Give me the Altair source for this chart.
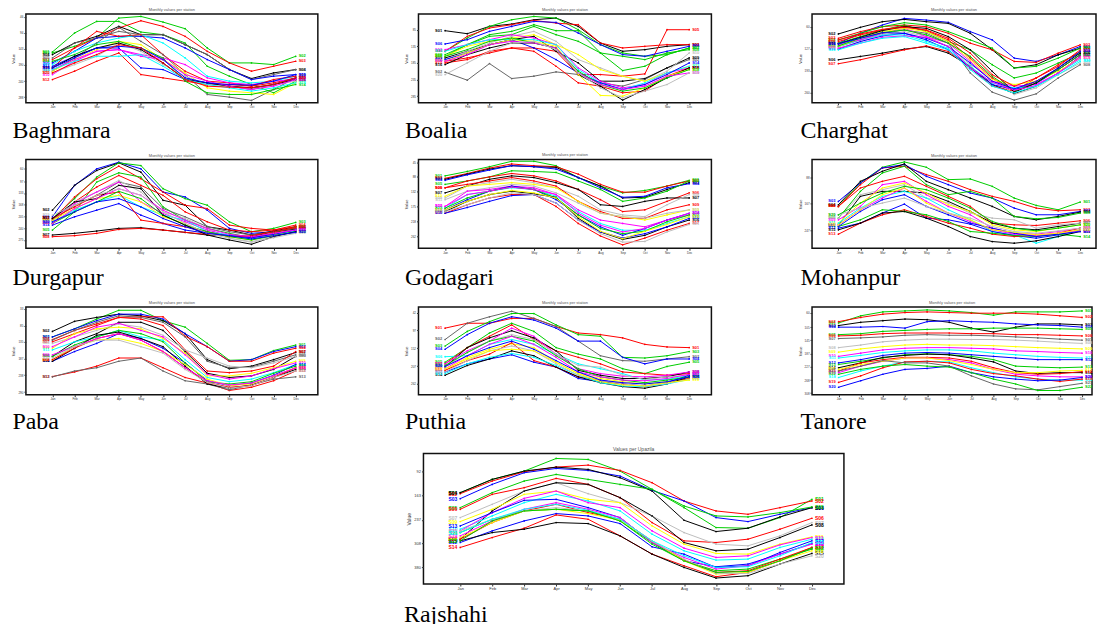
import altair as alt
import pandas as pd

MONTHS = ["Jan", "Feb", "Mar", "Apr", "May", "Jun", "Jul", "Aug", "Sep", "Oct", "Nov", "Dec"]
PALETTE = {"k": "#000000", "r": "#FF0000", "g": "#00CD00", "b": "#0000FF", "c": "#00FFFF",
           "m": "#FF00FF", "y": "#FFFF00", "gr": "#BEBEBE", "dg": "#666666"}

# values (arbitrary units: screen depth inside each panel frame)
BAGHMARA = [
    ("g", [152, 95, 60, 60, 92, 100, 125, 195, 225, 250, 275, 240]),
    ("g", [155, 135, 110, 50, 45, 62, 82, 140, 185, 185, 190, 165]),
    ("r", [175, 140, 110, 80, 58, 75, 105, 150, 185, 210, 195, 180]),
    ("k", [160, 125, 105, 75, 100, 100, 130, 160, 205, 232, 215, 205]),
    ("dg", [170, 125, 110, 90, 100, 100, 130, 160, 205, 235, 220, 205]),
    ("b", [185, 150, 110, 105, 105, 110, 140, 175, 205, 235, 225, 220]),
    ("c", [190, 150, 125, 110, 100, 125, 170, 225, 240, 245, 240, 225]),
    ("r", [200, 140, 90, 105, 100, 160, 210, 240, 245, 255, 245, 230]),
    ("dg", [210, 170, 125, 78, 120, 160, 220, 280, 288, 298, 265, 230]),
    ("m", [220, 180, 150, 145, 160, 170, 190, 230, 245, 250, 240, 235]),
    ("y", [210, 175, 145, 120, 130, 175, 215, 260, 270, 275, 280, 245]),
    ("r", [235, 210, 180, 155, 220, 230, 240, 250, 250, 255, 235, 225]),
    ("b", [195, 165, 140, 140, 200, 205, 235, 245, 255, 265, 250, 230]),
    ("g", [180, 160, 130, 120, 140, 170, 240, 275, 280, 280, 265, 250]),
    ("gr", [215, 190, 165, 125, 150, 190, 225, 250, 255, 265, 250, 240]),
    ("k", [200, 165, 140, 125, 145, 185, 235, 245, 255, 260, 250, 235]),
    ("m", [205, 175, 150, 145, 165, 175, 220, 240, 255, 265, 255, 235]),
    ("c", [205, 180, 165, 165, 160, 195, 235, 250, 260, 270, 260, 245]),
    ("b", [200, 170, 140, 135, 140, 175, 230, 245, 250, 252, 240, 220]),
    ("r", [215, 185, 160, 130, 140, 185, 235, 255, 258, 260, 250, 230]),
]

BOALIA = [
    ("k", [88, 97, 75, 68, 55, 50, 75, 125, 150, 145, 135, 130]),
    ("dg", [213, 237, 187, 232, 225, 212, 220, 245, 255, 235, 200, 175]),
    ("g", [150, 110, 75, 55, 45, 50, 85, 130, 155, 165, 160, 140]),
    ("r", [150, 105, 80, 70, 57, 65, 70, 125, 140, 135, 130, 130]),
    ("r", [180, 170, 155, 140, 140, 150, 220, 220, 225, 218, 85, 85]),
    ("b", [128, 115, 90, 75, 60, 63, 95, 130, 160, 165, 150, 135]),
    ("g", [165, 130, 100, 90, 70, 88, 88, 155, 208, 195, 160, 140]),
    ("g", [160, 130, 105, 100, 75, 100, 120, 155, 165, 175, 155, 145]),
    ("k", [170, 150, 130, 115, 105, 150, 185, 240, 240, 232, 200, 170]),
    ("gr", [175, 150, 125, 105, 90, 120, 175, 200, 225, 240, 210, 155]),
    ("y", [165, 135, 120, 110, 100, 130, 160, 205, 225, 240, 215, 195]),
    ("m", [145, 130, 115, 100, 110, 130, 200, 240, 260, 250, 215, 200]),
    ("c", [150, 130, 115, 115, 115, 130, 205, 245, 265, 245, 215, 195]),
    ("b", [175, 155, 130, 115, 140, 175, 215, 245, 265, 250, 220, 185]),
    ("r", [185, 175, 150, 140, 150, 195, 245, 255, 275, 270, 225, 200]),
    ("k", [190, 160, 140, 125, 125, 140, 220, 255, 297, 265, 230, 200]),
    ("y", [180, 155, 130, 115, 120, 135, 220, 283, 285, 260, 225, 205]),
    ("g", [165, 145, 120, 110, 125, 140, 210, 250, 270, 260, 230, 205]),
    ("m", [180, 160, 130, 120, 125, 140, 215, 250, 265, 255, 225, 215]),
    ("gr", [220, 185, 150, 125, 120, 145, 215, 260, 290, 270, 250, 215]),
]

CHARGHAT = [
    ("b", [110, 80, 55, 35, 40, 47, 75, 100, 155, 165, 145, 120]),
    ("k", [82, 62, 45, 38, 45, 50, 80, 130, 185, 175, 145, 125]),
    ("r", [95, 75, 60, 55, 60, 80, 110, 130, 165, 168, 140, 115]),
    ("g", [100, 80, 60, 48, 55, 75, 100, 125, 185, 180, 155, 125]),
    ("g", [110, 90, 70, 55, 75, 105, 130, 175, 215, 200, 170, 140]),
    ("k", [160, 150, 140, 128, 120, 140, 180, 235, 262, 240, 200, 150]),
    ("r", [172, 160, 145, 130, 118, 135, 185, 240, 255, 225, 190, 145]),
    ("dg", [120, 100, 80, 70, 80, 110, 200, 258, 282, 263, 215, 175]),
    ("gr", [125, 105, 85, 75, 90, 120, 175, 215, 265, 245, 205, 170]),
    ("r", [105, 85, 70, 58, 72, 100, 155, 215, 255, 215, 175, 135]),
    ("b", [128, 105, 88, 80, 100, 130, 185, 235, 250, 232, 190, 145]),
    ("c", [120, 100, 85, 85, 105, 125, 180, 230, 245, 240, 200, 160]),
    ("m", [115, 100, 80, 65, 90, 110, 165, 225, 240, 235, 200, 150]),
    ("y", [120, 95, 75, 65, 75, 105, 160, 220, 235, 225, 195, 155]),
    ("g", [118, 95, 78, 70, 85, 110, 150, 210, 255, 230, 190, 145]),
    ("k", [112, 92, 72, 60, 65, 90, 130, 195, 258, 230, 185, 140]),
    ("r", [100, 82, 68, 62, 70, 95, 140, 205, 240, 215, 180, 130]),
    ("b", [112, 95, 78, 80, 95, 120, 170, 225, 248, 225, 185, 135]),
    ("m", [125, 110, 92, 88, 92, 120, 185, 228, 252, 238, 200, 155]),
    ("c", [130, 110, 95, 90, 110, 130, 190, 240, 260, 240, 205, 165]),
]

DURGAPUR = [
    ("b", [205, 110, 60, 40, 60, 130, 145, 185, 240, 255, 250, 240]),
    ("k", [185, 110, 65, 42, 70, 155, 170, 235, 245, 260, 248, 235]),
    ("g", [210, 150, 85, 42, 50, 120, 150, 170, 220, 250, 240, 222]),
    ("r", [215, 145, 90, 52, 90, 130, 170, 180, 230, 240, 245, 230]),
    ("g", [245, 190, 100, 72, 85, 175, 215, 240, 255, 268, 255, 235]),
    ("r", [225, 160, 115, 80, 110, 140, 190, 220, 245, 250, 245, 235]),
    ("k", [260, 255, 248, 240, 238, 245, 252, 260, 262, 265, 250, 242]),
    ("r", [265, 262, 255, 243, 240, 245, 252, 258, 262, 268, 255, 245]),
    ("dg", [215, 170, 140, 100, 115, 180, 205, 235, 250, 260, 250, 240]),
    ("gr", [220, 160, 130, 95, 130, 190, 210, 240, 270, 280, 265, 250]),
    ("m", [210, 165, 130, 100, 160, 195, 220, 245, 262, 268, 262, 245]),
    ("c", [220, 185, 160, 140, 175, 200, 215, 250, 260, 272, 260, 248]),
    ("y", [215, 180, 150, 140, 160, 205, 225, 255, 265, 275, 260, 252]),
    ("b", [230, 205, 185, 165, 200, 225, 245, 255, 262, 268, 258, 245]),
    ("r", [210, 175, 140, 130, 215, 225, 235, 250, 265, 262, 250, 238]),
    ("g", [225, 190, 160, 128, 150, 200, 230, 250, 265, 275, 262, 250]),
    ("k", [210, 160, 150, 110, 120, 200, 230, 260, 275, 288, 265, 250]),
    ("m", [225, 180, 150, 120, 140, 185, 215, 240, 258, 265, 255, 245]),
    ("gr", [200, 170, 140, 120, 140, 190, 225, 255, 270, 282, 268, 255]),
    ("b", [220, 190, 160, 150, 175, 210, 235, 255, 262, 272, 262, 252]),
]

GODAGARI = [
    ("g", [85, 72, 58, 42, 42, 55, 90, 115, 135, 128, 115, 98]),
    ("r", [92, 78, 62, 50, 55, 58, 80, 110, 133, 133, 115, 100]),
    ("k", [95, 80, 65, 55, 58, 60, 90, 115, 150, 148, 125, 105]),
    ("b", [98, 82, 68, 55, 58, 65, 90, 120, 148, 145, 120, 108]),
    ("g", [110, 100, 88, 70, 72, 75, 100, 125, 160, 150, 130, 100]),
    ("r", [120, 100, 88, 78, 85, 100, 125, 155, 190, 185, 160, 135]),
    ("k", [135, 115, 95, 85, 90, 105, 125, 170, 175, 160, 150, 150]),
    ("gr", [150, 115, 105, 95, 105, 120, 145, 185, 200, 205, 170, 140]),
    ("r", [120, 110, 100, 90, 100, 115, 160, 190, 210, 210, 185, 170]),
    ("y", [145, 115, 110, 105, 110, 120, 160, 195, 205, 215, 200, 185]),
    ("gr", [155, 130, 120, 110, 115, 135, 165, 195, 205, 210, 195, 185]),
    ("m", [175, 130, 125, 115, 120, 140, 185, 215, 225, 235, 215, 200]),
    ("c", [180, 140, 130, 120, 125, 145, 190, 225, 245, 245, 225, 205]),
    ("b", [185, 155, 130, 115, 125, 155, 200, 235, 260, 240, 215, 195]),
    ("g", [180, 150, 130, 118, 125, 150, 200, 240, 255, 248, 220, 200]),
    ("k", [190, 160, 140, 130, 138, 148, 210, 250, 272, 260, 235, 215]),
    ("r", [195, 170, 150, 140, 140, 175, 225, 262, 288, 268, 245, 225]),
    ("b", [195, 178, 160, 143, 140, 165, 215, 250, 268, 255, 235, 210]),
    ("y", [185, 160, 140, 128, 135, 150, 205, 248, 270, 248, 228, 205]),
    ("m", [175, 140, 130, 118, 125, 140, 195, 230, 250, 240, 215, 195]),
    ("gr", [190, 170, 150, 135, 140, 165, 215, 255, 280, 278, 250, 228]),
]

MOHANPUR = [
    ("g", [175, 105, 58, 42, 58, 95, 93, 115, 150, 172, 185, 162]),
    ("r", [175, 110, 60, 55, 80, 100, 125, 145, 160, 180, 188, 185]),
    ("b", [160, 105, 60, 50, 85, 110, 135, 150, 180, 200, 200, 190]),
    ("k", [170, 100, 70, 48, 100, 125, 150, 175, 205, 215, 205, 192]),
    ("g", [210, 130, 75, 55, 110, 140, 130, 150, 205, 212, 208, 195]),
    ("r", [175, 120, 100, 85, 115, 145, 175, 225, 230, 232, 225, 218]),
    ("k", [230, 145, 130, 130, 135, 160, 190, 225, 240, 245, 235, 225]),
    ("gr", [210, 140, 125, 110, 150, 165, 195, 210, 215, 240, 230, 225]),
    ("m", [215, 175, 110, 100, 140, 175, 200, 240, 255, 258, 250, 240]),
    ("y", [225, 165, 120, 105, 135, 170, 190, 230, 245, 250, 240, 230]),
    ("c", [225, 180, 145, 130, 150, 185, 215, 250, 260, 285, 265, 248]),
    ("b", [240, 225, 195, 168, 210, 215, 228, 250, 262, 270, 260, 245]),
    ("r", [258, 225, 200, 185, 205, 225, 240, 258, 265, 262, 255, 240]),
    ("g", [235, 215, 185, 190, 200, 220, 250, 255, 262, 265, 258, 265]),
    ("k", [245, 225, 195, 190, 210, 235, 265, 280, 285, 278, 265, 250]),
    ("m", [230, 185, 150, 120, 160, 195, 220, 245, 258, 262, 255, 248]),
    ("b", [235, 190, 155, 140, 175, 200, 225, 240, 255, 265, 258, 250]),
    ("y", [230, 185, 140, 120, 165, 195, 215, 245, 252, 260, 255, 245]),
    ("gr", [200, 180, 165, 150, 175, 195, 210, 235, 250, 255, 248, 240]),
    ("g", [200, 165, 135, 115, 125, 150, 180, 220, 240, 248, 240, 230]),
]

PABA = [
    ("g", [120, 95, 65, 38, 38, 70, 90, 140, 192, 190, 162, 145]),
    ("k", [103, 72, 60, 50, 55, 70, 110, 190, 218, 210, 190, 168]),
    ("b", [120, 95, 70, 50, 50, 65, 110, 150, 195, 190, 165, 150]),
    ("r", [128, 100, 80, 60, 58, 58, 118, 150, 195, 195, 170, 155]),
    ("dg", [130, 100, 75, 55, 60, 75, 120, 195, 215, 213, 195, 175]),
    ("k", [180, 135, 110, 75, 75, 100, 165, 232, 245, 240, 220, 180]),
    ("r", [135, 110, 85, 60, 65, 85, 160, 225, 230, 225, 210, 165]),
    ("gr", [140, 120, 100, 80, 90, 115, 160, 185, 210, 215, 200, 180]),
    ("y", [155, 110, 95, 90, 95, 125, 170, 240, 240, 232, 215, 195]),
    ("m", [150, 120, 90, 78, 100, 120, 175, 235, 250, 240, 218, 200]),
    ("c", [160, 135, 120, 100, 120, 130, 190, 245, 258, 250, 230, 205]),
    ("r", [242, 228, 210, 185, 185, 215, 245, 262, 285, 275, 255, 225]),
    ("dg", [243, 225, 215, 195, 185, 225, 255, 265, 283, 268, 250, 243]),
    ("b", [195, 165, 140, 110, 125, 155, 200, 255, 270, 262, 238, 205]),
    ("g", [180, 145, 120, 100, 110, 135, 200, 258, 265, 258, 232, 210]),
    ("k", [195, 155, 115, 105, 125, 150, 210, 265, 278, 268, 245, 220]),
    ("y", [190, 150, 130, 125, 140, 165, 205, 250, 270, 265, 240, 215]),
    ("r", [190, 155, 125, 110, 130, 165, 215, 260, 275, 270, 245, 215]),
    ("m", [175, 150, 125, 110, 130, 165, 215, 255, 268, 262, 240, 215]),
    ("gr", [185, 150, 130, 130, 150, 170, 220, 260, 278, 270, 245, 225]),
]

PUTHIA = [
    ("r", [90, 75, 75, 60, 60, 85, 105, 110, 120, 140, 148, 150]),
    ("dg", [125, 75, 55, 38, 60, 85, 130, 175, 190, 192, 185, 178]),
    ("g", [145, 100, 70, 45, 45, 80, 110, 115, 180, 182, 175, 162]),
    ("b", [155, 110, 75, 55, 65, 90, 130, 130, 180, 200, 185, 185]),
    ("g", [195, 150, 105, 75, 100, 150, 170, 185, 215, 230, 208, 195]),
    ("c", [178, 175, 140, 125, 140, 170, 200, 215, 230, 250, 248, 235]),
    ("r", [200, 150, 115, 80, 125, 160, 180, 200, 225, 230, 235, 230]),
    ("k", [210, 150, 120, 98, 120, 160, 220, 235, 245, 245, 240, 225]),
    ("m", [200, 160, 130, 90, 115, 170, 215, 230, 238, 240, 235, 225]),
    ("gr", [210, 165, 130, 110, 125, 170, 205, 210, 235, 248, 240, 235]),
    ("y", [220, 180, 155, 138, 150, 195, 230, 245, 255, 262, 255, 245]),
    ("b", [225, 200, 185, 172, 195, 210, 245, 255, 262, 268, 258, 235]),
    ("r", [220, 190, 170, 135, 190, 210, 240, 250, 262, 270, 260, 245]),
    ("k", [235, 205, 185, 160, 175, 210, 240, 258, 270, 275, 262, 240]),
    ("c", [230, 200, 180, 168, 180, 205, 235, 258, 268, 270, 262, 248]),
    ("g", [205, 165, 130, 115, 130, 175, 215, 240, 250, 258, 250, 240]),
    ("m", [215, 175, 140, 115, 140, 180, 225, 240, 250, 252, 245, 232]),
    ("gr", [225, 190, 160, 145, 160, 200, 235, 250, 262, 268, 260, 248]),
    ("y", [215, 185, 160, 155, 160, 195, 230, 255, 265, 268, 258, 250]),
    ("b", [208, 175, 150, 130, 155, 190, 225, 250, 258, 262, 255, 240]),
]

TANORE = [
    ("g", [92, 70, 58, 55, 52, 55, 60, 68, 58, 58, 58, 55]),
    ("r", [88, 75, 65, 60, 58, 60, 62, 62, 62, 65, 70, 75]),
    ("k", [100, 90, 85, 80, 82, 90, 108, 120, 105, 95, 95, 98]),
    ("b", [105, 105, 103, 108, 88, 85, 88, 90, 95, 98, 100, 105]),
    ("g", [128, 125, 118, 115, 112, 110, 110, 108, 108, 108, 110, 112]),
    ("r", [132, 130, 125, 123, 123, 123, 125, 125, 128, 128, 130, 132]),
    ("dg", [140, 138, 135, 130, 128, 130, 130, 132, 135, 138, 142, 145]),
    ("gr", [168, 160, 150, 145, 142, 142, 143, 143, 145, 148, 152, 155]),
    ("y", [182, 172, 165, 160, 158, 160, 160, 162, 165, 168, 170, 172]),
    ("m", [195, 185, 175, 170, 168, 168, 170, 172, 178, 180, 183, 185]),
    ("c", [200, 192, 183, 178, 175, 175, 178, 185, 190, 195, 198, 200]),
    ("b", [215, 205, 192, 185, 183, 185, 190, 195, 200, 205, 205, 205]),
    ("g", [220, 210, 200, 190, 187, 190, 195, 205, 225, 228, 230, 228]),
    ("k", [230, 215, 198, 192, 188, 190, 200, 212, 240, 248, 245, 245]),
    ("r", [240, 215, 205, 198, 198, 200, 210, 230, 245, 250, 248, 242]),
    ("m", [245, 225, 210, 200, 200, 205, 215, 235, 250, 255, 258, 258]),
    ("y", [235, 220, 210, 200, 200, 208, 220, 235, 245, 245, 240, 238]),
    ("c", [260, 240, 225, 212, 210, 212, 230, 245, 258, 265, 268, 268]),
    ("r", [275, 255, 230, 212, 210, 215, 235, 248, 255, 265, 272, 265]),
    ("b", [290, 270, 250, 235, 232, 225, 245, 258, 265, 270, 268, 260]),
    ("dg", [240, 225, 208, 215, 215, 225, 255, 280, 295, 298, 288, 278]),
    ("g", [250, 235, 225, 220, 225, 228, 245, 265, 280, 300, 300, 290]),
]

RAJSHAHI = [
    ("g", [155, 115, 90, 52, 55, 90, 145, 200, 260, 262, 230, 175]),
    ("r", [158, 120, 92, 78, 72, 88, 125, 180, 210, 220, 200, 180]),
    ("b", [173, 130, 95, 82, 88, 105, 148, 180, 230, 242, 220, 200]),
    ("k", [155, 115, 90, 78, 85, 110, 150, 238, 272, 262, 228, 200]),
    ("g", [200, 155, 120, 100, 115, 130, 145, 195, 225, 228, 215, 198]),
    ("r", [205, 160, 140, 112, 130, 170, 245, 300, 305, 295, 265, 232]),
    ("gr", [230, 190, 150, 125, 158, 185, 225, 275, 310, 315, 285, 245]),
    ("k", [295, 210, 150, 125, 130, 170, 225, 305, 330, 325, 290, 252]),
    ("y", [242, 205, 160, 150, 175, 185, 255, 310, 338, 340, 310, 288]),
    ("c", [265, 225, 185, 160, 180, 210, 280, 330, 358, 355, 320, 295]),
    ("m", [270, 215, 172, 150, 185, 200, 270, 322, 350, 345, 312, 290]),
    ("b", [305, 270, 240, 218, 225, 248, 318, 340, 380, 375, 335, 300]),
    ("b", [255, 215, 178, 175, 200, 230, 305, 360, 378, 370, 340, 308]),
    ("r", [320, 290, 262, 222, 235, 285, 340, 375, 408, 395, 360, 320]),
    ("k", [300, 275, 265, 245, 248, 285, 340, 380, 412, 405, 370, 338]),
    ("g", [275, 235, 210, 205, 210, 240, 305, 360, 390, 385, 355, 325]),
    ("r", [295, 245, 210, 190, 215, 235, 300, 358, 395, 390, 355, 320]),
    ("y", [290, 245, 210, 205, 218, 238, 300, 360, 400, 395, 360, 330]),
    ("m", [285, 240, 205, 185, 205, 230, 305, 350, 385, 375, 340, 310]),
    ("gr", [270, 235, 210, 200, 210, 235, 300, 355, 398, 398, 370, 345]),
    ("c", [275, 235, 205, 190, 208, 235, 300, 345, 380, 378, 345, 305]),
    ("g", [300, 240, 210, 205, 210, 240, 310, 360, 395, 392, 360, 322]),
]

MONTH_EXPR = "['Jan','Feb','Mar','Apr','May','Jun','Jul','Aug','Sep','Oct','Nov','Dec'][datum.value - 1]"


def make_panel(name, series, ydom, yticks, xmin, xmax, w, h, tx, ty, lfs, efs, top_title, top_fs):
    rows = []
    for i, (c, vals) in enumerate(series):
        for m, v in enumerate(vals):
            rows.append({"sid": f"S{i + 1:02d}", "col": PALETTE[c], "month": m + 1, "value": v})
    df = pd.DataFrame(rows)
    x = alt.X("month:Q",
              scale=alt.Scale(domain=[xmin, xmax], nice=False, zero=False),
              axis=alt.Axis(values=list(range(1, 13)), labelExpr=MONTH_EXPR, labelFontSize=lfs,
                            labelColor="#333", tickColor="#333", tickSize=2, labelPadding=1,
                            domain=False, grid=False, labelFlush=False,
                            title=name, titleFont="Liberation Serif", titleFontSize=24,
                            titleFontWeight="normal", titleColor="#000", titleAlign="left",
                            titleBaseline="alphabetic", titleX=tx, titleY=ty))
    y = alt.Y("value:Q",
              scale=alt.Scale(domain=ydom, reverse=True, nice=False, zero=False),
              axis=alt.Axis(values=yticks, labelFontSize=lfs, labelColor="#333", tickColor="#333",
                            tickSize=2, labelPadding=1, domain=False, grid=False, labelFlush=False,
                            title="Value", titleFontSize=lfs + 1, titleFontWeight="normal",
                            titleColor="#333", titlePadding=2))
    color = alt.Color("col:N", scale=None)
    base = alt.Chart(df)
    lines = base.mark_line(strokeWidth=1).encode(x=x, y=y, color=color, detail="sid:N")
    pts = base.mark_point(filled=True, size=3, opacity=1).encode(x=x, y=y, color=color)
    left = base.transform_filter("datum.month == 1").mark_text(
        align="right", baseline="middle", dx=-3, fontSize=efs, fontWeight="bold").encode(
        x=x, y=y, color=color, text="sid:N")
    right = base.transform_filter("datum.month == 12").mark_text(
        align="left", baseline="middle", dx=3, fontSize=efs, fontWeight="bold").encode(
        x=x, y=y, color=color, text="sid:N")
    return alt.layer(lines, pts, left, right).properties(
        width=w, height=h,
        title=alt.TitleParams(text=top_title, fontSize=top_fs, fontWeight="normal", color="#555",
                              offset=2, anchor="middle"))


T = "Monthly values per station"
p_bag = make_panel("Baghmara", BAGHMARA, [38, 305], [46, 94, 143, 190, 240, 288], -0.2, 13.0, 293, 89, -14, 35, 3, 4, T, 4)
p_boa = make_panel("Boalia", BOALIA, [38, 305], [85, 135, 185, 235, 285], -0.2, 13.0, 294, 89, -14, 35, 3, 4, T, 4)
p_cha = make_panel("Charghat", CHARGHAT, [22, 290], [60, 127, 193, 260], -0.2, 12.72, 285, 89, -12, 35, 3, 4, T, 4)
p_dur = make_panel("Durgapur", DURGAPUR, [32, 300], [60, 97, 133, 168, 205, 240, 275], -0.2, 13.0, 293, 89, -14, 36, 3, 4, T, 4)
p_god = make_panel("Godagari", GODAGARI, [37, 298], [45, 88, 132, 175, 218, 262], -0.2, 13.0, 294, 89, -14, 36, 3, 4, T, 4)
p_moh = make_panel("Mohanpur", MOHANPUR, [35, 300], [88, 167, 247], -0.2, 12.72, 285, 89, -12, 36, 3, 4, T, 4)
p_pab = make_panel("Paba", PABA, [28, 298], [33, 85, 135, 187, 238, 290], -0.2, 13.0, 293, 88, -14, 34, 3, 4, T, 4)
p_put = make_panel("Puthia", PUTHIA, [25, 295], [42, 97, 152, 207, 262], -0.2, 13.0, 294, 88, -14, 34, 3, 4, T, 4)
p_tan = make_panel("Tanore", TANORE, [43, 313], [60, 105, 145, 187, 227, 268, 308], -0.2, 12.45, 281, 88, -12, 34, 3, 4, T, 4)
p_raj = make_panel("Rajshahi", RAJSHAHI, [37, 430], [92, 163, 237, 308, 380], -0.15, 13.0, 422, 131, -20, 38, 4, 5, "Values per Upazila", 5)

spacer = alt.Chart(pd.DataFrame({"v": [0]})).mark_point(opacity=0).encode(
    x=alt.X("v:Q", axis=None, scale=alt.Scale(domain=[-1, 1])),
    y=alt.Y("v:Q", axis=None, scale=alt.Scale(domain=[-1, 1]))
).properties(width=378, height=10, view=alt.ViewBackground(stroke=None))

row1 = alt.hconcat(p_bag, p_boa, p_cha, spacing=85)
row2 = alt.hconcat(p_dur, p_god, p_moh, spacing=85)
row3 = alt.hconcat(p_pab, p_put, p_tan, spacing=85)
row4 = alt.hconcat(spacer, p_raj, spacing=0)

lower = alt.vconcat(row3, row4, spacing=11)
middle = alt.vconcat(row2, lower, spacing=10)
chart = alt.vconcat(row1, middle, spacing=8).properties(
    padding={"left": 11, "top": 6, "right": 0, "bottom": 0},
    background="white",
).configure_view(stroke="#111111", strokeWidth=1.5)

chart.save("out.html", embed_options={"renderer": "svg", "actions": False})
